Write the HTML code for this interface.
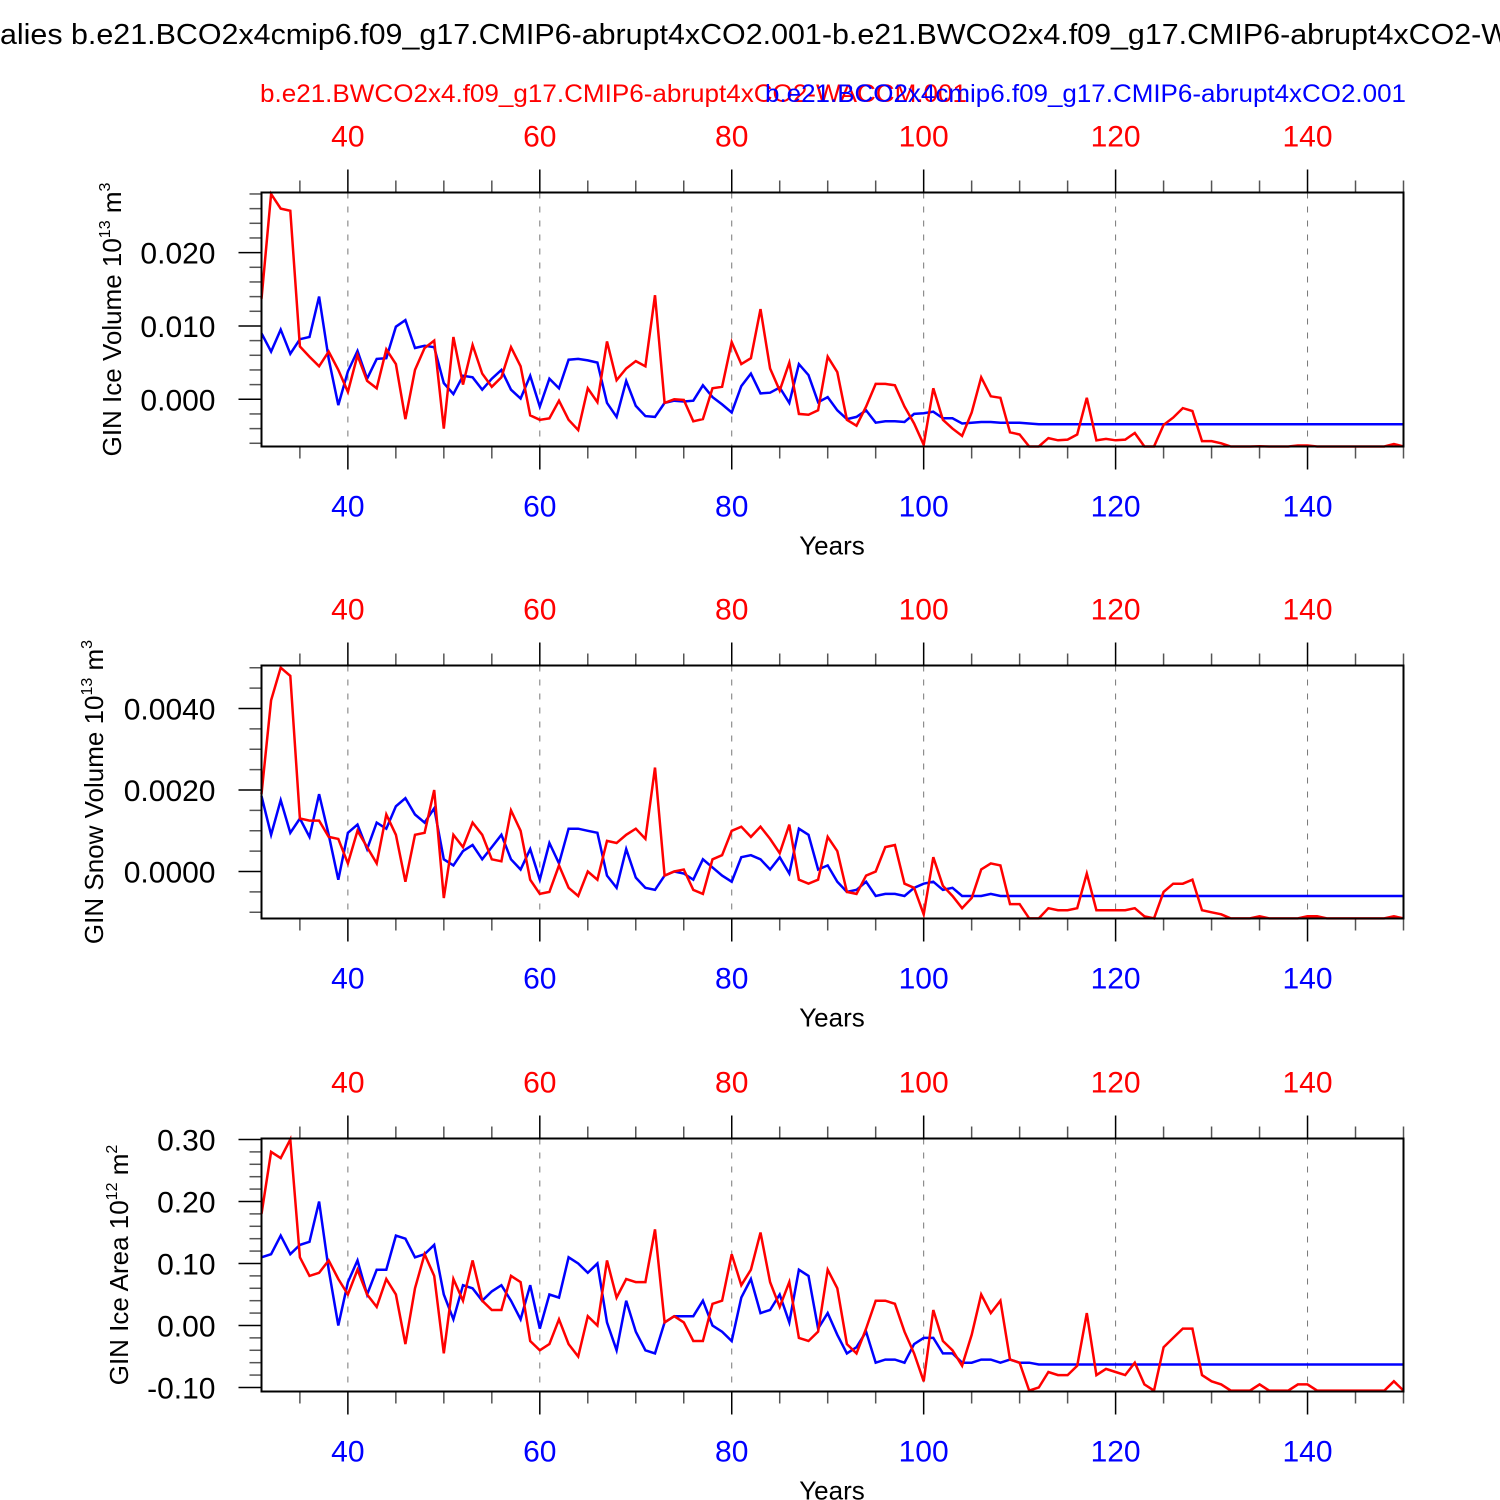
<!DOCTYPE html>
<html><head><meta charset="utf-8"><style>
html,body{margin:0;padding:0;background:#fff;}
svg{display:block;font-family:"Liberation Sans",Arial,sans-serif;}
</style></head><body>
<svg id="chart" width="1500" height="1500" viewBox="0 0 1500 1500" xmlns="http://www.w3.org/2000/svg">
<rect width="1500" height="1500" fill="#fff"/>
<text x="0" y="44" font-size="29" fill="#000" textLength="1510" lengthAdjust="spacingAndGlyphs">alies b.e21.BCO2x4cmip6.f09_g17.CMIP6-abrupt4xCO2.001-b.e21.BWCO2x4.f09_g17.CMIP6-abrupt4xCO2-W</text>
<text x="260" y="102" font-size="25" fill="#f00" textLength="707" lengthAdjust="spacingAndGlyphs">b.e21.BWCO2x4.f09_g17.CMIP6-abrupt4xCO2-WACCM.001</text>
<text x="765" y="102" font-size="25" fill="#00f" textLength="641" lengthAdjust="spacingAndGlyphs">b.e21.BCO2x4cmip6.f09_g17.CMIP6-abrupt4xCO2.001</text>
</svg>
<script>
const years = [];
for (let y = 31; y <= 150; y++) years.push(y);
const xTicks = [40, 60, 80, 100, 120, 140];

const iceVolRed = [0.0137,0.028,0.026,0.0257,0.0072,0.0058,0.0045,0.0065,0.004,0.001,0.006,0.0025,0.0015,0.0068,0.0048,-0.0027,0.004,0.007,0.008,-0.004,0.0085,0.002,0.0074,0.0035,0.0017,0.003,0.0071,0.0045,-0.0022,-0.0028,-0.0026,-0.0002,-0.0028,-0.0042,0.0015,-0.0004,0.0079,0.0026,0.0042,0.0052,0.0045,0.0142,-0.0005,0.0,-0.0001,-0.003,-0.0027,0.0015,0.0017,0.0078,0.0048,0.0056,0.0123,0.0042,0.0012,0.005,-0.002,-0.0021,-0.0015,0.0058,0.0037,-0.0028,-0.0036,-0.001,0.0021,0.0021,0.0019,-0.001,-0.0033,-0.0062,0.0015,-0.0028,-0.004,-0.005,-0.0018,0.003,0.0004,0.0002,-0.0045,-0.0048,-0.0065,-0.0065,-0.0053,-0.0056,-0.0055,-0.0048,0.0002,-0.0056,-0.0054,-0.0056,-0.0055,-0.0046,-0.0065,-0.0065,-0.0035,-0.0025,-0.0012,-0.0016,-0.0057,-0.0057,-0.006,-0.0066,-0.0066,-0.0066,-0.0064,-0.0066,-0.0066,-0.0066,-0.0063,-0.0063,-0.0066,-0.0066,-0.0066,-0.0066,-0.0066,-0.0066,-0.0066,-0.0066,-0.0061,-0.0065];
const iceVolBlue = [0.009,0.0065,0.0095,0.0062,0.0082,0.0085,0.014,0.0055,-0.0008,0.0038,0.0066,0.0028,0.0055,0.0056,0.0099,0.0108,0.007,0.0073,0.0071,0.0022,0.0007,0.0032,0.003,0.0013,0.0028,0.004,0.0013,0.0001,0.0032,-0.001,0.0028,0.0015,0.0054,0.0055,0.0053,0.005,-0.0005,-0.0024,0.0025,-0.0009,-0.0023,-0.0024,-0.0005,-0.0002,-0.0003,-0.0002,0.0019,0.0003,-0.0007,-0.0018,0.0018,0.0035,0.0008,0.0009,0.0016,-0.0005,0.0048,0.0033,-0.0004,0.0003,-0.0015,-0.0027,-0.0024,-0.0015,-0.0032,-0.003,-0.003,-0.0031,-0.002,-0.0019,-0.0017,-0.0026,-0.0026,-0.0033,-0.0032,-0.0031,-0.0031,-0.0032,-0.0032,-0.0032,-0.0033,-0.0034,-0.0034,-0.0034,-0.0034,-0.0034,-0.0034,-0.0034,-0.0034,-0.0034,-0.0034,-0.0034,-0.0034,-0.0034,-0.0034,-0.0034,-0.0034,-0.0034,-0.0034,-0.0034,-0.0034,-0.0034,-0.0034,-0.0034,-0.0034,-0.0034,-0.0034,-0.0034,-0.0034,-0.0034,-0.0034,-0.0034,-0.0034,-0.0034,-0.0034,-0.0034,-0.0034,-0.0034,-0.0034,-0.0034];
const snowVolRed = [0.0019,0.0042,0.005,0.0048,0.0013,0.00125,0.00125,0.00085,0.0008,0.0002,0.001,0.0006,0.0002,0.0014,0.0009,-0.00025,0.0009,0.00095,0.002,-0.00065,0.0009,0.0006,0.0012,0.0009,0.0003,0.00025,0.0015,0.001,-0.0002,-0.00055,-0.0005,0.00015,-0.0004,-0.0006,0.0,-0.0002,0.00075,0.0007,0.0009,0.00105,0.0008,0.00255,-0.0001,0.0,0.00005,-0.00045,-0.00055,0.0003,0.0004,0.001,0.0011,0.00085,0.0011,0.0008,0.00045,0.00115,-0.0002,-0.0003,-0.0002,0.00085,0.0005,-0.0005,-0.00055,-0.0001,0.0,0.0006,0.00065,-0.0003,-0.0004,-0.00105,0.00035,-0.00035,-0.0006,-0.0009,-0.00065,0.00005,0.0002,0.00015,-0.0008,-0.0008,-0.00115,-0.00115,-0.0009,-0.00095,-0.00095,-0.0009,-0.00005,-0.00095,-0.00095,-0.00095,-0.00095,-0.0009,-0.0011,-0.00115,-0.0005,-0.0003,-0.0003,-0.0002,-0.00095,-0.001,-0.00105,-0.00115,-0.00115,-0.00115,-0.0011,-0.00115,-0.00115,-0.00115,-0.00115,-0.0011,-0.0011,-0.00115,-0.00115,-0.00115,-0.00115,-0.00115,-0.00115,-0.00115,-0.0011,-0.00115];
const snowVolBlue = [0.00185,0.0009,0.00175,0.00095,0.0013,0.00085,0.0019,0.0009,-0.0002,0.00095,0.00115,0.00055,0.0012,0.00105,0.0016,0.0018,0.0014,0.0012,0.00155,0.0003,0.00015,0.0005,0.00065,0.0003,0.0006,0.0009,0.0003,0.00005,0.00055,-0.0002,0.0007,0.0002,0.00105,0.00105,0.001,0.00095,-0.0001,-0.0004,0.00055,-0.00015,-0.0004,-0.00045,-0.0001,0.0,-0.00005,-0.0002,0.0003,0.0001,-0.0001,-0.00025,0.00035,0.0004,0.0003,0.00005,0.00035,-0.00005,0.00105,0.0009,0.00005,0.00015,-0.00025,-0.0005,-0.00045,-0.00025,-0.0006,-0.00055,-0.00055,-0.0006,-0.0004,-0.0003,-0.00025,-0.00045,-0.0004,-0.0006,-0.0006,-0.0006,-0.00055,-0.0006,-0.0006,-0.0006,-0.0006,-0.0006,-0.0006,-0.0006,-0.0006,-0.0006,-0.0006,-0.0006,-0.0006,-0.0006,-0.0006,-0.0006,-0.0006,-0.0006,-0.0006,-0.0006,-0.0006,-0.0006,-0.0006,-0.0006,-0.0006,-0.0006,-0.0006,-0.0006,-0.0006,-0.0006,-0.0006,-0.0006,-0.0006,-0.0006,-0.0006,-0.0006,-0.0006,-0.0006,-0.0006,-0.0006,-0.0006,-0.0006,-0.0006,-0.0006];
const iceAreaRed = [0.18,0.28,0.27,0.30,0.11,0.08,0.085,0.105,0.075,0.05,0.09,0.05,0.03,0.075,0.05,-0.03,0.06,0.115,0.08,-0.045,0.075,0.04,0.105,0.04,0.025,0.025,0.08,0.07,-0.025,-0.04,-0.03,0.01,-0.03,-0.05,0.015,0.0,0.105,0.045,0.075,0.07,0.07,0.155,0.005,0.015,0.005,-0.025,-0.025,0.035,0.04,0.115,0.065,0.09,0.15,0.07,0.03,0.07,-0.02,-0.025,-0.01,0.09,0.06,-0.03,-0.045,-0.005,0.04,0.04,0.035,-0.01,-0.045,-0.09,0.025,-0.025,-0.04,-0.065,-0.015,0.05,0.02,0.04,-0.055,-0.06,-0.105,-0.1,-0.075,-0.08,-0.08,-0.065,0.02,-0.08,-0.07,-0.075,-0.08,-0.06,-0.095,-0.105,-0.035,-0.02,-0.005,-0.005,-0.08,-0.09,-0.095,-0.105,-0.105,-0.105,-0.095,-0.105,-0.105,-0.105,-0.095,-0.095,-0.105,-0.105,-0.105,-0.105,-0.105,-0.105,-0.105,-0.105,-0.09,-0.105];
const iceAreaBlue = [0.11,0.115,0.145,0.115,0.13,0.135,0.2,0.09,0.0,0.07,0.105,0.05,0.09,0.09,0.145,0.14,0.11,0.115,0.13,0.05,0.01,0.065,0.06,0.04,0.055,0.065,0.04,0.01,0.065,-0.005,0.05,0.045,0.11,0.1,0.085,0.1,0.005,-0.04,0.04,-0.01,-0.04,-0.045,0.005,0.015,0.015,0.015,0.04,0.0,-0.01,-0.025,0.045,0.075,0.02,0.025,0.05,0.005,0.09,0.08,-0.005,0.02,-0.015,-0.045,-0.035,-0.01,-0.06,-0.055,-0.055,-0.06,-0.03,-0.02,-0.02,-0.045,-0.045,-0.06,-0.06,-0.055,-0.055,-0.06,-0.055,-0.06,-0.06,-0.063,-0.063,-0.063,-0.063,-0.063,-0.063,-0.063,-0.063,-0.063,-0.063,-0.063,-0.063,-0.063,-0.063,-0.063,-0.063,-0.063,-0.063,-0.063,-0.063,-0.063,-0.063,-0.063,-0.063,-0.063,-0.063,-0.063,-0.063,-0.063,-0.063,-0.063,-0.063,-0.063,-0.063,-0.063,-0.063,-0.063,-0.063,-0.063];

const yTicks1 = [0, 0.01, 0.02];
const yTickLabels1 = ["0.000", "0.010", "0.020"];
const yTicks2 = [0, 0.002, 0.004];
const yTickLabels2 = ["0.0000", "0.0020", "0.0040"];
const yTicks3 = [-0.1, 0, 0.1, 0.2, 0.3];
const yTickLabels3 = ["-0.10", "0.00", "0.10", "0.20", "0.30"];

const NS = "http://www.w3.org/2000/svg";
const svg = document.getElementById("chart");
function mk(tag, attrs, parent) {
  const e = document.createElementNS(NS, tag);
  for (const k in attrs) e.setAttribute(k, attrs[k]);
  (parent || svg).appendChild(e);
  return e;
}
const X0 = 261.5, X1 = 1403.5, YMIN = 31, YMAX = 150;
function xScale(yr) { return X0 + (yr - YMIN) / (YMAX - YMIN) * (X1 - X0); }

const panels = [
  {name:"ice-volume", top:192.5, h:254, min:-0.00644, max:0.0282, minor:0.002, ticks:yTicks1, labels:yTickLabels1, red:iceVolRed, blue:iceVolBlue, title:"GIN Ice Volume 10", sup:"13", unit:" m", usup:"3", tx:121},
  {name:"snow-volume", top:665.5, h:253, min:-0.001153, max:0.005055, minor:0.0005, ticks:yTicks2, labels:yTickLabels2, red:snowVolRed, blue:snowVolBlue, title:"GIN Snow Volume 10", sup:"13", unit:" m", usup:"3", tx:103},
  {name:"ice-area", top:1138.5, h:253, min:-0.1065, max:0.3016, minor:0.02, ticks:yTicks3, labels:yTickLabels3, red:iceAreaRed, blue:iceAreaBlue, title:"GIN Ice Area 10", sup:"12", unit:" m", usup:"2", tx:128}
];

panels.forEach((p) => {
  const g = mk("g", {});
  
  
  const bot = p.top + p.h;
  const yS = v => bot - (v - p.min) / (p.max - p.min) * p.h;
  xTicks.forEach(t => {
    const l = mk("line", {x1:xScale(t), x2:xScale(t), y1:p.top, y2:bot, stroke:"#777", "stroke-width":1, "stroke-dasharray":"6,8"}, g);
    
    
  });
  for (let t = 35; t <= 150; t += 5) {
    const major = t % 20 === 0;
    const len = major ? 23 : 12;
    const col = major ? "#000" : "#555";
    const x = xScale(t);
    mk("line", {x1:x, x2:x, y1:p.top, y2:p.top - len, stroke:col, "stroke-width":1.5}, g);
    mk("line", {x1:x, x2:x, y1:bot, y2:bot + len, stroke:col, "stroke-width":1.5}, g);
  }
  const nMin = Math.ceil(p.min / p.minor - 1e-6), nMax = Math.floor(p.max / p.minor + 1e-6);
  for (let i = nMin; i <= nMax; i++) {
    const v = i * p.minor;
    const major = p.ticks.some(t => Math.abs(t - v) < p.minor * 0.01);
    mk("line", {x1:X0, x2:X0 - (major ? 23 : 12), y1:yS(v), y2:yS(v), stroke: major ? "#000" : "#555", "stroke-width":1.5}, g);
  }
  p.ticks.forEach((t, i) => {
    const tx = mk("text", {x:X0 - 46, y:yS(t) + 11, "font-size":30, "text-anchor":"end", fill:"#000"}, g);
    tx.textContent = p.labels[i];
    
    
  });
  xTicks.forEach(t => {
    const a = mk("text", {x:xScale(t), y:p.top - 46, "font-size":30, "text-anchor":"middle", fill:"#f00"}, g);
    a.textContent = t;
    
    
    const b = mk("text", {x:xScale(t), y:bot + 70, "font-size":30, "text-anchor":"middle", fill:"#00f"}, g);
    b.textContent = t;
    
    
  });
  const xt = mk("text", {x:832, y:bot + 108, "font-size":26, "text-anchor":"middle", fill:"#000"}, g);
  xt.textContent = "Years";
  
  
  const cy = p.top + p.h / 2;
  const yt = mk("text", {x:0, y:0, "font-size":26, "text-anchor":"middle", fill:"#000", transform:`translate(${p.tx},${cy}) rotate(-90)`}, g);
  
  
  const t1 = mk("tspan", {}, yt); t1.textContent = p.title;
  const t2 = mk("tspan", {dy:-11, "font-size":16}, yt); t2.textContent = p.sup;
  const t3 = mk("tspan", {dy:11}, yt); t3.textContent = p.unit;
  const t4 = mk("tspan", {dy:-11, "font-size":16}, yt); t4.textContent = p.usup;
  [["blue", p.blue, "#00f"], ["red", p.red, "#f00"]].forEach(([nm, arr, col]) => {
    const d = arr.map((v, i) => (i ? "L" : "M") + xScale(years[i]).toFixed(1) + "," + yS(Math.max(p.min, Math.min(p.max, v))).toFixed(1)).join("");
    const path = mk("path", {d:d, fill:"none", stroke:col, "stroke-width":2.5, "stroke-linejoin":"miter"}, g);
    
    
  });
  const fr = mk("rect", {x:X0, y:p.top, width:X1 - X0, height:p.h, fill:"none", stroke:"#000", "stroke-width":2}, g);
  
  
});
</script>
</body></html>
